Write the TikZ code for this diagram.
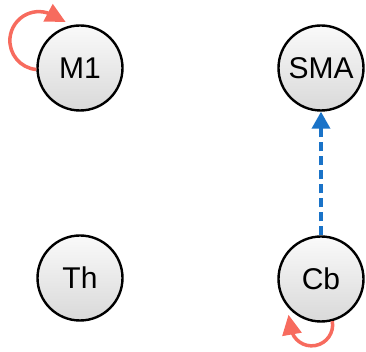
\documentclass[tikz,border=0pt]{standalone}
\usepackage{fontspec}
\setmainfont{Liberation Sans}
\usetikzlibrary{arrows.meta}
\definecolor{loopred}{HTML}{F76B5E}
\definecolor{linkblue}{HTML}{1A73C8}
\tikzset{
  region/.style={circle, draw=black, line width=2.4pt, minimum size=85pt, inner sep=0pt,
    top color=gray!4, bottom color=gray!30, font=\fontsize{30}{34}\selectfont},
  selfloop/.style={draw=loopred, line width=3.5pt, -{Triangle[length=20pt,width=19pt]}},
  link/.style={draw=linkblue, line width=3.5pt, dash pattern=on 9pt off 5pt, -{Triangle[length=17pt,width=18pt]}}
}
\begin{document}
\begin{tikzpicture}[x=1pt,y=1pt]
\useasboundingbox (0,0) rectangle (366,352);
\node[region] (M1) at (80,284) {M1};
\node[region] (SMA) at (321,284) {SMA};
\node[region] (Th) at (80,74) {Th};
\node[region] (Cb) at (321,73) {Cb};
\draw[link] (Cb) -- (SMA);
\draw[selfloop] (M1.182) arc[start angle=265, end angle=62, radius=29] -- ++(-28:15);
\draw[selfloop] (Cb.-75) arc[start angle=10, end angle=-170, radius=21] -- ++(100:14);
\end{tikzpicture}
\end{document}
